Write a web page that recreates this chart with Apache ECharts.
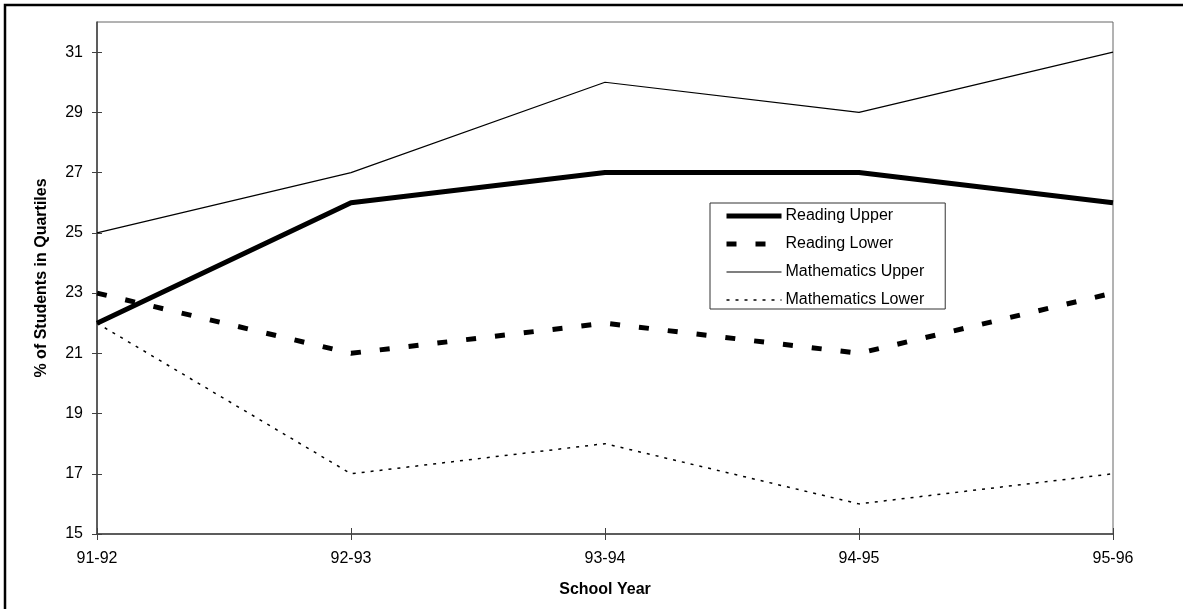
<!DOCTYPE html>
<html>
<head>
<meta charset="utf-8">
<title>% of Students in Quartiles</title>
<script src="https://cdn.jsdelivr.net/npm/echarts@6/dist/echarts.min.js"></script>
<style>
  html, body { margin: 0; padding: 0; background: #fff; overflow: hidden; }
  #chart { width: 1183px; height: 609px; }
</style>
</head>
<body>
<div id="chart"></div>
<script>
// School years on the x axis
const years = ['91-92', '92-93', '93-94', '94-95', '95-96'];

// % of students in each quartile
const readingUpper = [22, 26, 27, 27, 26];
const readingLower = [23, 21, 22, 21, 23];
const mathUpper = [25, 27, 30, 29, 31];
const mathLower = [22, 17, 18, 16, 17];

// y axis tick labels
const yTicks = [15, 17, 19, 21, 23, 25, 27, 29, 31];

const font = 'Liberation Sans, Arial, sans-serif';
const axisColor = '#404040';

const chart = echarts.init(document.getElementById('chart'));

// helper so every series looks the same apart from the line style
function makeSeries(name, values, lineStyle) {
    return {
        name: name,
        type: 'line',
        data: values,
        symbol: 'none',
        silent: true,
        animation: false,
        itemStyle: { color: '#000' },
        lineStyle: Object.assign({ color: '#000' }, lineStyle)
    };
}

const option = {
    backgroundColor: '#fff',
    animation: false,
    graphic: [{
        type: 'rect',
        shape: { x: 5, y: 5, width: 1300, height: 700 },
        style: { fill: 'none', stroke: '#000', lineWidth: 2.5 },
        silent: true
    }],
    grid: {
        left: 97, top: 22, right: 70, bottom: 75,
        show: true, borderColor: '#666', borderWidth: 1
    },
    legend: {
        orient: 'vertical',
        left: 710, top: 203,
        padding: [5, 21, 1, 14],
        itemWidth: 55,
        itemHeight: 12,
        itemGap: 12,
        borderColor: '#333',
        borderWidth: 1,
        backgroundColor: '#fff',
        selectedMode: false,
        itemStyle: { opacity: 0 },
        lineStyle: { width: 'inherit', type: 'inherit', color: '#000' },
        textStyle: { fontFamily: font, fontSize: 16, color: '#000', padding: [0, 0, 0, -1] },
        data: ['Reading Upper', 'Reading Lower', 'Mathematics Upper', 'Mathematics Lower']
    },
    xAxis: [{
        type: 'category',
        data: years,
        boundaryGap: false,
        name: 'School Year',
        nameLocation: 'middle',
        nameGap: 48,
        nameTextStyle: { fontFamily: font, fontSize: 16, fontWeight: 'bold', color: '#000' },
        axisLine: { lineStyle: { color: axisColor, width: 1.5 } },
        axisTick: { alignWithLabel: true, length: 6, lineStyle: { color: axisColor } },
        axisLabel: { fontFamily: font, fontSize: 16, color: '#000', margin: 17 },
        splitLine: { show: false }
    }, {
        // second copy only for the inner half of the cross ticks
        type: 'category',
        data: years,
        boundaryGap: false,
        position: 'bottom',
        axisLine: { show: false },
        axisTick: { inside: true, length: 6, lineStyle: { color: axisColor } },
        axisLabel: { show: false },
        splitLine: { show: false }
    }],
    yAxis: [{
        type: 'value',
        min: 15,
        max: 32,
        interval: 2,
        name: '% of Students in Quartiles',
        nameLocation: 'middle',
        nameGap: 47,
        nameTextStyle: { fontFamily: font, fontSize: 16, fontWeight: 'bold', color: '#000' },
        axisLine: { show: true, lineStyle: { color: axisColor, width: 1.5 } },
        axisTick: { show: true, length: 5, customValues: yTicks, lineStyle: { color: axisColor } },
        axisLabel: { fontFamily: font, fontSize: 16, color: '#000', margin: 14, customValues: yTicks },
        splitLine: { show: false }
    }, {
        type: 'value',
        min: 15,
        max: 32,
        interval: 2,
        position: 'left',
        axisLine: { show: false },
        axisTick: { show: true, inside: true, length: 5, customValues: yTicks, lineStyle: { color: axisColor } },
        axisLabel: { show: false },
        splitLine: { show: false }
    }],
    series: [
        makeSeries('Reading Upper', readingUpper, { width: 5 }),
        makeSeries('Reading Lower', readingLower, { width: 5, type: [10, 19], cap: 'butt' }),
        makeSeries('Mathematics Upper', mathUpper, { width: 1.2 }),
        makeSeries('Mathematics Lower', mathLower, { width: 1.5, type: [3, 6] })
    ]
};

chart.setOption(option);
</script>
</body>
</html>
